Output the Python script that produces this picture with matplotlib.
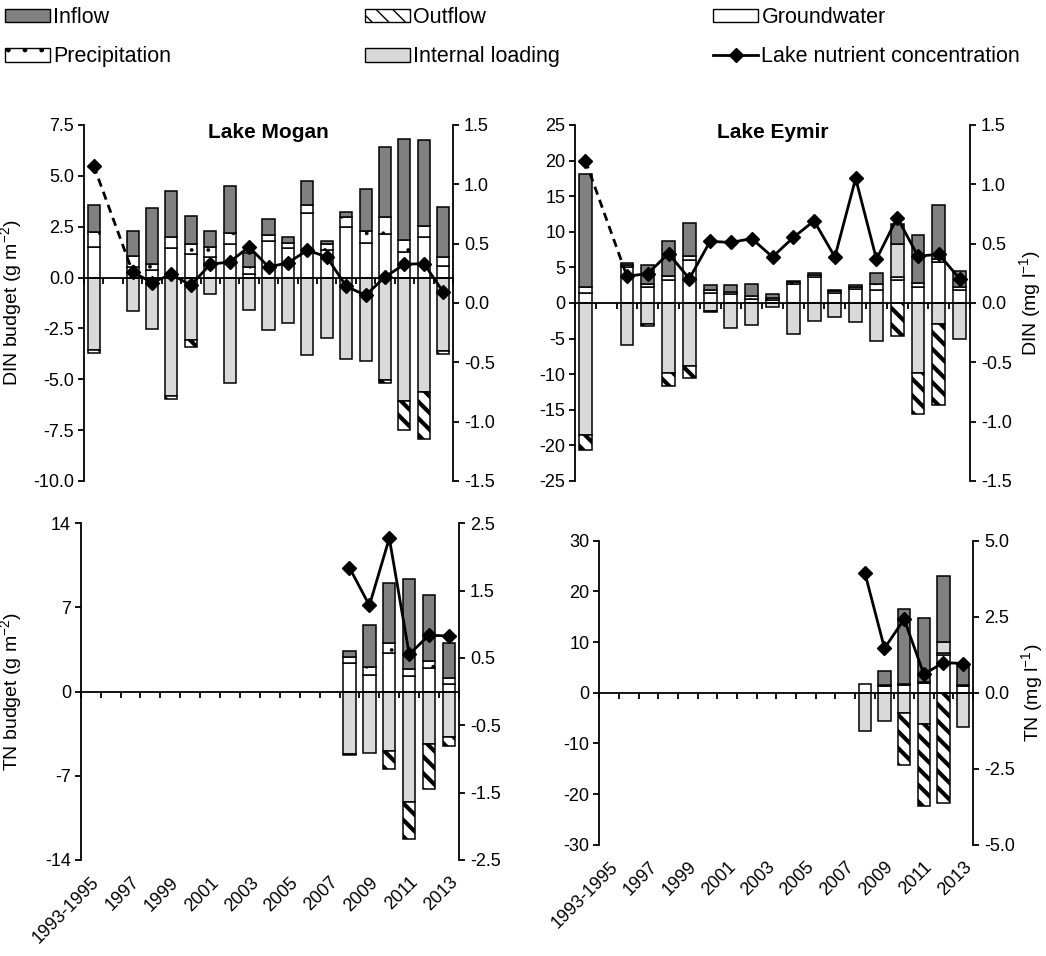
import numpy as np
import matplotlib
matplotlib.use("Agg")
from matplotlib import pyplot as plt
from matplotlib.patches import Patch
from matplotlib.lines import Line2D

nan = np.nan

categories = ["1993-1995", "1996", "1997", "1998", "1999", "2000", "2001", "2002",
              "2003", "2004", "2005", "2006", "2007", "2008", "2009", "2010",
              "2011", "2012", "2013"]

# Lake Mogan, DIN (g m-2), segment heights
mogan_din_gw = [1.48, nan, 0.53, 0.35, 1.43, 1.18, 1.02, 1.67, 0.2, 1.8, 1.43, 3.15, 1.35, 2.5, 1.7, 2.13, 1.26, 1.97, 0.56]
mogan_din_precip = [0.74, nan, 0.52, 0.31, 0.57, 0.49, 0.49, 0.53, 0.3, 0.28, 0.27, 0.41, 0.32, 0.46, 0.6, 0.86, 0.58, 0.56, 0.46]
mogan_din_internal = [-3.55, nan, -1.66, -2.51, -5.8, -3.05, -0.79, -5.17, -1.6, -2.6, -2.24, -3.79, -2.96, -4.02, -4.1, -5.02, -6.09, -5.63, -3.61]
mogan_din_inflow = [1.34, nan, 1.25, 2.77, 2.25, 1.35, 0.79, 2.3, 0.7, 0.82, 0.3, 1.19, 0.13, 0.27, 2.05, 3.41, 4.96, 4.24, 2.43]
mogan_din_outflow = [-0.16, nan, 0, 0, -0.16, -0.37, 0, 0, 0, 0, 0, 0, 0, 0, 0, -0.17, -1.38, -2.3, -0.17]
mogan_din_conc = [1.157, nan, 0.262, 0.172, 0.242, 0.149, 0.326, 0.346, 0.473, 0.304, 0.338, 0.445, 0.388, 0.141, 0.065, 0.22, 0.326, 0.332, 0.093]

# Lake Eymir, DIN
eymir_din_gw = [1.4, nan, 5.0, 2.2, 3.2, 6.0, 1.4, 1.2, 0.6, 0.4, 2.6, 3.64, 1.4, 2.0, 1.8, 3.2, 2.3, 5.7, 1.8]
eymir_din_precip = [0.8, nan, 0.3, 0.5, 0.6, 0.6, 0.4, 0.34, 0.33, 0.35, 0.3, 0.3, 0.25, 0.3, 0.8, 0.4, 0.5, 0.5, 0.44]
eymir_din_internal = [-18.55, nan, -5.93, -2.9, -9.77, -8.83, -1.1, -3.45, -3.13, -0.56, -4.3, -2.57, -1.96, -2.66, -5.33, 4.7, -9.77, -2.9, -5.0]
eymir_din_inflow = [15.9, nan, 0.35, 2.58, 4.84, 4.6, 0.68, 0.94, 1.67, 0.45, 0.18, 0.26, 0.13, 0.18, 1.65, 2.8, 6.8, 7.6, 2.26]
eymir_din_outflow = [-2.11, nan, 0, -0.37, -1.93, -1.67, -0.15, 0, 0, 0, 0, 0, 0, 0, 0, -4.62, -5.83, -11.45, 0]
eymir_din_conc = [1.2, nan, 0.225, 0.248, 0.417, 0.205, 0.52, 0.51, 0.543, 0.388, 0.552, 0.692, 0.388, 1.05, 0.369, 0.72, 0.394, 0.411, 0.205]

# Lake Mogan, TN (2008-2013 only)
mogan_tn_gw = [nan] * 13 + [2.35, 1.4, 3.24, 1.3, 1.94, 0.64]
mogan_tn_precip = [nan] * 13 + [0.55, 0.68, 0.83, 0.56, 0.64, 0.46]
mogan_tn_internal = [nan] * 13 + [-5.15, -5.07, -4.93, -9.2, -4.37, -3.74]
mogan_tn_inflow = [nan] * 13 + [0.48, 3.46, 4.93, 7.5, 5.45, 2.92]
mogan_tn_outflow = [nan] * 13 + [-0.1, 0, -1.52, -3.05, -3.72, -0.75]
mogan_tn_conc = [nan] * 13 + [1.84, 1.28, 2.28, 0.555, 0.84, 0.825]

# Lake Eymir, TN
eymir_tn_gw = [nan] * 13 + [1.7, 1.3, 1.5, 2.0, 7.5, 1.3]
eymir_tn_precip = [nan] * 13 + [0, 0.2, 0.2, 0.2, 0.3, 0.2]
eymir_tn_internal = [nan] * 13 + [-7.5, -5.52, -3.94, -6.24, 2.27, -6.83]
eymir_tn_inflow = [nan] * 13 + [0, 2.84, 14.9, 12.5, 12.93, 3.8]
eymir_tn_outflow = [nan] * 13 + [0, 0, -10.32, -16.11, -21.85, 0]
eymir_tn_conc = [nan] * 13 + [3.95, 1.46, 2.42, 0.61, 0.99, 0.96]

plt.rcParams["font.family"] = ["Liberation Sans", "DejaVu Sans"]
plt.rcParams["axes.unicode_minus"] = False
plt.rcParams["mathtext.fontset"] = "custom"
plt.rcParams["mathtext.rm"] = "Liberation Sans"
plt.rcParams["hatch.linewidth"] = 1.0

TICK_FS = 13
LABEL_FS = 14

styles = {
    "gw": dict(facecolor="white", edgecolor="black"),
    "precip": dict(facecolor="white", edgecolor="black", hatch="."),
    "internal": dict(facecolor="#d9d9d9", edgecolor="black"),
    "inflow": dict(facecolor="#808080", edgecolor="black"),
    "outflow": dict(facecolor="white", edgecolor="black", hatch="\\\\"),
}


def set_hatch_lw(patches, lw):
    for p in patches:
        if hasattr(p, "set_hatch_linewidth"):
            p.set_hatch_linewidth(lw)


def panel(fig, rect, series, conc, ylim, yticks, yfmt, ylim2, yticks2, yfmt2,
          title=None, ylabel=None, ylabel2=None, ylabel_x=None, ylabel2_x=None,
          xlabels=False):
    x = np.arange(len(categories))
    ax = fig.add_axes(rect)
    tw = ax.twinx()

    pos = np.zeros(len(x))
    neg = np.zeros(len(x))
    for key in ["gw", "precip", "internal", "inflow", "outflow"]:
        v = np.asarray(series[key], float)
        ok = ~np.isnan(v) & (v != 0)
        bottom = np.where(v > 0, pos, neg)
        bars = ax.bar(x[ok], v[ok], bottom=bottom[ok], width=0.62,
                      linewidth=1.1, zorder=2, **styles[key])
        if key == "outflow":
            set_hatch_lw(bars, 3.0)
        elif key == "precip":
            set_hatch_lw(bars, 0.3)
        pos = pos + np.where(ok & (v > 0), v, 0)
        neg = neg + np.where(ok & (v < 0), v, 0)

    c = np.asarray(conc, float)
    tw.plot(x, c, color="black", lw=2, marker="D", ms=7.5, zorder=3)
    idx = np.where(~np.isnan(c))[0]
    for a, b in zip(idx[:-1], idx[1:]):
        if b - a > 1:
            tw.plot([x[a], x[b]], [c[a], c[b]], color="black", lw=2,
                    ls=(0, (3, 2)), zorder=3)

    ax.set_xlim(-0.5, len(x) - 0.5)
    ax.set_ylim(*ylim)
    ax.set_yticks(yticks)
    ax.set_yticklabels([yfmt.format(t) for t in yticks])
    tw.set_ylim(*ylim2)
    tw.set_yticks(yticks2)
    tw.set_yticklabels([yfmt2.format(t) for t in yticks2])

    for s in ["top", "right"]:
        ax.spines[s].set_visible(False)
    ax.spines["left"].set_linewidth(1.3)
    ax.spines["bottom"].set_position(("data", 0))
    ax.spines["bottom"].set_linewidth(1.3)
    ax.spines["bottom"].set_zorder(4)
    for s in ["top", "left", "bottom"]:
        tw.spines[s].set_visible(False)
    tw.spines["right"].set_linewidth(1.3)

    ax.set_xticks(np.arange(-0.5, len(x), 1))
    ax.tick_params(axis="x", direction="out", length=4, width=1.3, labelbottom=False)
    ax.tick_params(axis="y", direction="out", length=4, width=1.3, labelsize=TICK_FS, pad=3)
    tw.tick_params(axis="y", direction="out", length=4, width=1.3, labelsize=TICK_FS, pad=4)

    if title:
        ax.text(0.5, 0.98, title, transform=ax.transAxes, ha="center", va="center",
                fontsize=15, fontweight="bold")
    if ylabel:
        ax.set_ylabel(ylabel, fontsize=LABEL_FS, va="center")
        ax.yaxis.set_label_coords(ylabel_x, 0.5)
    if ylabel2:
        tw.set_ylabel(ylabel2, fontsize=LABEL_FS, rotation=90, va="center")
        tw.yaxis.set_label_coords(ylabel2_x, 0.5)
    if xlabels:
        sec = ax.secondary_xaxis(0.0)
        sec.set_xticks(x[::2])
        sec.set_xticklabels(categories[0:1] + categories[2::2], fontsize=TICK_FS)
        sec.tick_params(length=0, pad=10)
        sec.spines["bottom"].set_visible(False)
        for lab in sec.get_xticklabels():
            lab.set_rotation(45)
            lab.set_ha("right")
            lab.set_va("top")
            lab.set_rotation_mode("anchor")
    return ax, tw


W, H = 1046, 956
fig = plt.figure(figsize=(W / 100, H / 100), dpi=100)


def rect(left, top, right, bottom):
    return [left / W, 1 - bottom / H, (right - left) / W, (bottom - top) / H]


din_ticks = [-10, -7.5, -5, -2.5, 0, 2.5, 5, 7.5]
conc_ticks = [-1.5, -1.0, -0.5, 0.0, 0.5, 1.0, 1.5]

panel(fig, rect(84, 125, 453, 481),
      dict(gw=mogan_din_gw, precip=mogan_din_precip, internal=mogan_din_internal,
           inflow=mogan_din_inflow, outflow=mogan_din_outflow),
      mogan_din_conc, (-10, 7.5), din_ticks, "{:.1f}", (-1.5, 1.5), conc_ticks, "{:.1f}",
      title="Lake Mogan", ylabel="DIN budget (g m$^{-2}$)", ylabel_x=-0.195)

panel(fig, rect(575, 125, 970, 481),
      dict(gw=eymir_din_gw, precip=eymir_din_precip, internal=eymir_din_internal,
           inflow=eymir_din_inflow, outflow=eymir_din_outflow),
      eymir_din_conc, (-25, 25), list(range(-25, 26, 5)), "{:d}", (-1.5, 1.5), conc_ticks, "{:.1f}",
      title="Lake Eymir", ylabel2="DIN (mg l$^{-1}$)", ylabel2_x=1.154)

panel(fig, rect(80.7, 523.3, 459, 860),
      dict(gw=mogan_tn_gw, precip=mogan_tn_precip, internal=mogan_tn_internal,
           inflow=mogan_tn_inflow, outflow=mogan_tn_outflow),
      mogan_tn_conc, (-14, 14), [-14, -7, 0, 7, 14], "{:d}", (-2.5, 2.5),
      [-2.5, -1.5, -0.5, 0.5, 1.5, 2.5], "{:.1f}",
      ylabel="TN budget (g m$^{-2}$)", ylabel_x=-0.182, xlabels=True)

panel(fig, rect(599.3, 540.7, 973, 844.7),
      dict(gw=eymir_tn_gw, precip=eymir_tn_precip, internal=eymir_tn_internal,
           inflow=eymir_tn_inflow, outflow=eymir_tn_outflow),
      eymir_tn_conc, (-30, 30), [-30, -20, -10, 0, 10, 20, 30], "{:d}", (-5, 5),
      [-5.0, -2.5, 0.0, 2.5, 5.0], "{:.1f}",
      ylabel2="TN (mg l$^{-1}$)", ylabel2_x=1.16, xlabels=True)

# legend, three columns of two entries
h_inflow = Patch(label="Inflow", **styles["inflow"])
h_precip = Patch(label="Precipitation", **styles["precip"])
h_outflow = Patch(label="Outflow", **styles["outflow"])
h_internal = Patch(label="Internal loading", **styles["internal"])
h_gw = Patch(label="Groundwater", **styles["gw"])
h_conc = Line2D([], [], color="black", lw=2, marker="D", ms=7.5,
                label="Lake nutrient concentration")
set_hatch_lw([h_outflow], 3.0)
set_hatch_lw([h_precip], 0.3)

leg_font = {"family": ["Liberation Sans"], "size": 15.5}
for col_x, handles in [(5, [h_inflow, h_precip]), (365, [h_outflow, h_internal]),
                       (713, [h_gw, h_conc])]:
    fig.legend(handles=handles, loc="upper left", bbox_to_anchor=(col_x / W, 1 - 7 / H),
               frameon=False, prop=leg_font, handlelength=2.1, handleheight=0.6,
               handletextpad=0.15, labelspacing=0.85, borderpad=0, borderaxespad=0)

fig.savefig("out.png", dpi=100)
